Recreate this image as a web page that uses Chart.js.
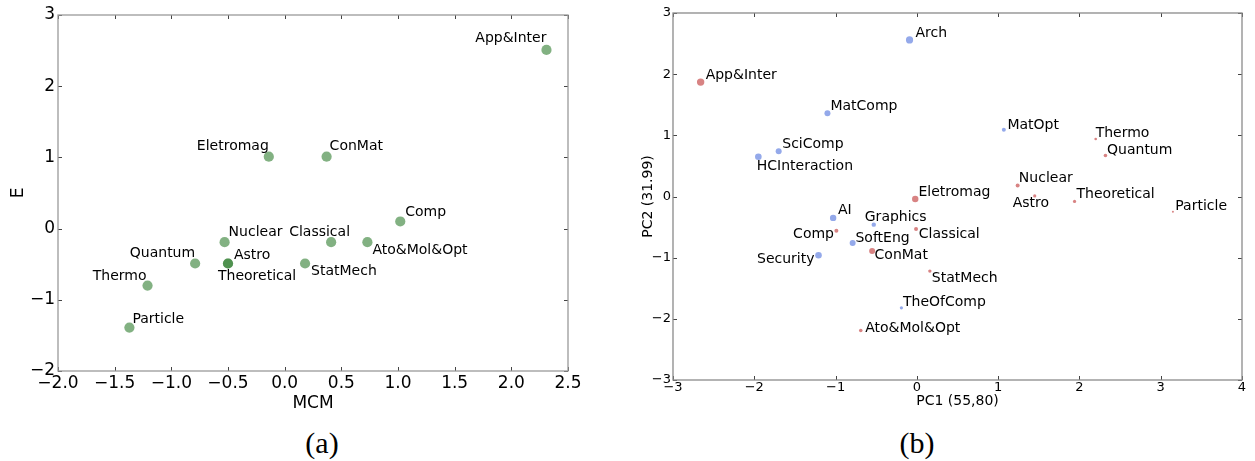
<!DOCTYPE html>
<html>
<head>
<meta charset="utf-8">
<script src="https://cdn.jsdelivr.net/npm/chart.js@4"></script>
<style>
  body { margin: 0; background: #fff; width: 1255px; height: 461px; position: relative; overflow: hidden; }
  .box { position: absolute; top: 0; }
  .cap { position: absolute; top: 423px; width: 80px; margin-left: -40px; text-align: center;
         font-family: "Liberation Serif", serif; font-size: 30px; line-height: 40px; color: #000; }
</style>
</head>
<body>
<div class="box" style="left:0px"><canvas id="chartA" width="600" height="420"></canvas></div>
<div class="box" style="left:630px"><canvas id="chartB" width="625" height="420"></canvas></div>
<div class="cap" style="left:322px">(a)</div>
<div class="cap" style="left:917px">(b)</div>
<script>
// (a) MCM vs E
const namesA = ['App&Inter', 'Eletromag', 'ConMat', 'Comp', 'Nuclear', 'Classical', 'Ato&Mol&Opt',
                'Quantum', 'Astro', 'Theoretical', 'StatMech', 'Thermo', 'Particle'];
const mcmA = [2.31, -0.14, 0.37, 1.02, -0.53, 0.41, 0.73, -0.79, -0.50, -0.50, 0.18, -1.21, -1.37];
const eA   = [2.51, 1.01, 1.01, 0.10, -0.19, -0.19, -0.19, -0.49, -0.49, -0.49, -0.49, -0.80, -1.39];
const xTicksA = [-2.0, -1.5, -1.0, -0.5, 0.0, 0.5, 1.0, 1.5, 2.0, 2.5];
const yTicksA = [-2, -1, 0, 1, 2, 3];

// (b) PCA, red = physics areas, blue = computer science areas
const namesRed = ['App&Inter', 'Thermo', 'Quantum', 'Nuclear', 'Astro', 'Theoretical', 'Particle',
                  'Eletromag', 'Comp', 'Classical', 'ConMat', 'StatMech', 'Ato&Mol&Opt'];
const pc1Red = [-2.66, 2.20, 2.32, 1.24, 1.45, 1.94, 3.15, -0.02, -0.99, -0.01, -0.55, 0.16, -0.69];
const pc2Red = [1.87, 0.94, 0.67, 0.18, 0.01, -0.08, -0.25, -0.04, -0.56, -0.53, -0.89, -1.22, -2.19];
const weightRed = [3.7, 1.3, 1.8, 2.0, 1.6, 1.6, 1.0, 3.2, 2.0, 2.0, 3.0, 1.7, 1.8];

const namesBlue = ['Arch', 'MatComp', 'MatOpt', 'SciComp', 'HCInteraction', 'AI', 'Graphics',
                   'SoftEng', 'Security', 'TheOfComp'];
const pc1Blue = [-0.09, -1.10, 1.07, -1.70, -1.95, -1.03, -0.53, -0.79, -1.21, -0.19];
const pc2Blue = [2.56, 1.36, 1.09, 0.74, 0.65, -0.35, -0.46, -0.76, -0.96, -1.82];
const weightBlue = [3.6, 3.0, 2.0, 3.0, 3.3, 3.2, 2.2, 3.0, 3.3, 1.6];

const xTicksB = [-3, -2, -1, 0, 1, 2, 3, 4];
const yTicksB = [-3, -2, -1, 0, 1, 2, 3];

// where each text sits next to its point: [dx, dy, align]
const placeA = {
  'App&Inter': [0, -8, 'right'], 'Eletromag': [0, -7, 'right'], 'ConMat': [3, -7, 'left'],
  'Comp': [5, -5, 'left'], 'Nuclear': [4, -6, 'left'], 'Classical': [-42, -6, 'left'],
  'Ato&Mol&Opt': [5, 12, 'left'], 'Quantum': [0, -6, 'right'], 'Astro': [6, -4, 'left'],
  'Theoretical': [-10, 17, 'left'], 'StatMech': [6, 12, 'left'], 'Thermo': [-1, -6, 'right'],
  'Particle': [3, -5, 'left']
};
const placeB = {
  'Arch': [6, -2.5, 'left'], 'App&Inter': [5, -3, 'left'], 'MatComp': [3, -3, 'left'],
  'MatOpt': [3.6, -1.3, 'left'], 'Thermo': [0, -2.3, 'left'], 'Quantum': [1.6, -2, 'left'],
  'SciComp': [3.6, -3.7, 'left'], 'HCInteraction': [-1.6, 13.7, 'left'], 'Nuclear': [1.2, -3, 'left'],
  'Astro': [-22, 11, 'left'], 'Theoretical': [2, -3.3, 'left'], 'Particle': [2.4, -1.7, 'left'],
  'Eletromag': [3.2, -3.3, 'left'], 'AI': [4.8, -4, 'left'], 'Graphics': [-9, -4, 'left'],
  'Comp': [-2.4, 7, 'right'], 'Classical': [2.8, 9, 'left'], 'SoftEng': [2.8, -0.7, 'left'],
  'ConMat': [2.4, 8.3, 'left'], 'Security': [-4, 8, 'right'], 'StatMech': [2, 10.7, 'left'],
  'TheOfComp': [1.6, -1.7, 'left'], 'Ato&Mol&Opt': [4.4, 2, 'left']
};

Chart.defaults.font.family = 'DejaVu Sans';
Chart.defaults.color = '#000';

const minus = s => String(s).replace('-', '\u2212');

// frame, inward tick marks and the point names
const framePlugin = {
  id: 'frame',
  afterDatasetsDraw(chart, args, opts) {
    const ctx = chart.ctx;
    const a = chart.chartArea;
    const xs = chart.scales.x, ys = chart.scales.y;
    ctx.save();
    // names
    ctx.font = '14px "DejaVu Sans"';
    ctx.fillStyle = '#000';
    ctx.textBaseline = 'alphabetic';
    chart.data.datasets.forEach((ds, i) => {
      const meta = chart.getDatasetMeta(i);
      meta.data.forEach((pt, j) => {
        const name = ds.names[j];
        const p = opts.place[name] || [3, -3, 'left'];
        ctx.textAlign = p[2];
        ctx.fillText(name, pt.x + p[0], pt.y + p[1]);
      });
    });
    // ticks pointing into the plot
    ctx.strokeStyle = '#444';
    ctx.lineWidth = 1;
    ctx.beginPath();
    xs.ticks.forEach(t => {
      const x = Math.round(xs.getPixelForValue(t.value)) + 0.5;
      ctx.moveTo(x, a.bottom); ctx.lineTo(x, a.bottom - 4);
      ctx.moveTo(x, a.top); ctx.lineTo(x, a.top + 4);
    });
    ys.ticks.forEach(t => {
      const y = Math.round(ys.getPixelForValue(t.value)) + 0.5;
      ctx.moveTo(a.left, y); ctx.lineTo(a.left + 4, y);
      ctx.moveTo(a.right, y); ctx.lineTo(a.right - 4, y);
    });
    ctx.stroke();
    // box
    ctx.strokeStyle = opts.color;
    ctx.lineWidth = 1.3;
    ctx.strokeRect(a.left, a.top, a.right - a.left, a.bottom - a.top);
    ctx.restore();
  }
};

function axis(ticks, fmt, size, pad, title, titleSize, titlePad, fitKey, fitVal) {
  return {
    type: 'linear',
    min: ticks[0],
    max: ticks[ticks.length - 1],
    afterBuildTicks: s => { s.ticks = ticks.map(v => ({ value: v })); },
    afterFit: s => { s[fitKey] = fitVal; },
    grid: { display: false, drawTicks: false },
    border: { display: false },
    ticks: { font: { size: size }, padding: pad, maxRotation: 0, autoSkip: false, callback: fmt, color: '#000' },
    title: { display: true, text: title, font: { size: titleSize }, padding: titlePad, color: '#000' }
  };
}

// chart (a)
new Chart(document.getElementById('chartA'), {
  type: 'scatter',
  data: {
    datasets: [{
      names: namesA,
      data: mcmA.map((v, i) => ({ x: v, y: eA[i] })),
      backgroundColor: 'rgba(46,125,46,0.6)',
      borderWidth: 0,
      pointRadius: 5.1
    }]
  },
  options: {
    responsive: false,
    animation: false,
    devicePixelRatio: 1,
    events: [],
    layout: { padding: { top: 15, right: 32, left: 0, bottom: 0 } },
    scales: {
      x: axis(xTicksA, v => minus(v.toFixed(1)), 17, 2, 'MCM', 17, { top: 0, bottom: 6 }, 'height', 49),
      y: axis(yTicksA, v => minus(v), 17, 3, 'E', 17, { top: 8, bottom: 0 }, 'width', 58)
    },
    plugins: { legend: { display: false }, tooltip: { enabled: false }, frame: { place: placeA, color: '#9a9a9a' } }
  },
  plugins: [framePlugin]
});

// chart (b)
new Chart(document.getElementById('chartB'), {
  type: 'scatter',
  data: {
    datasets: [{
      names: namesRed,
      data: pc1Red.map((v, i) => ({ x: v, y: pc2Red[i] })),
      backgroundColor: '#d88383',
      borderWidth: 0,
      pointRadius: weightRed
    }, {
      names: namesBlue,
      data: pc1Blue.map((v, i) => ({ x: v, y: pc2Blue[i] })),
      backgroundColor: '#94a9ea',
      borderWidth: 0,
      pointRadius: weightBlue
    }]
  },
  options: {
    responsive: false,
    animation: false,
    devicePixelRatio: 1,
    events: [],
    layout: { padding: { top: 13, right: 13, left: 0, bottom: 0 } },
    scales: {
      x: axis(xTicksB, v => minus(v), 13, 0, 'PC1 (55,80)', 14, { top: 0, bottom: 10 }, 'height', 40),
      y: axis(yTicksB, v => minus(v), 13, 2, 'PC2 (31.99)', 14, { top: 10, bottom: 0 }, 'width', 43)
    },
    plugins: { legend: { display: false }, tooltip: { enabled: false }, frame: { place: placeB, color: '#8a8a8a' } }
  },
  plugins: [framePlugin]
});
</script>
</body>
</html>
